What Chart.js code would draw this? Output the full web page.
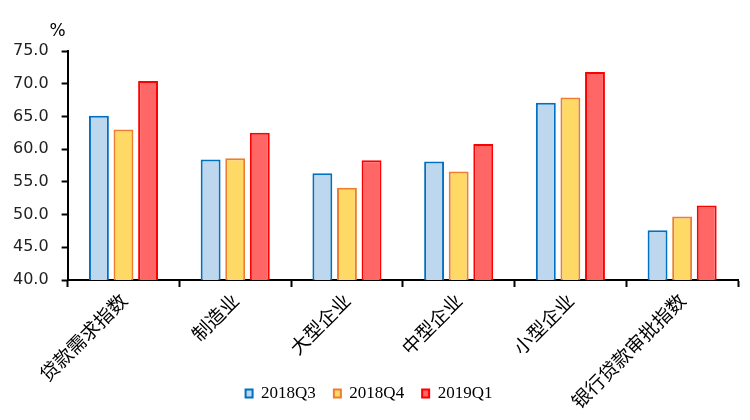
<!DOCTYPE html>
<html>
<head>
<meta charset="utf-8">
<script src="https://cdn.jsdelivr.net/npm/chart.js@4"></script>
<style>
  html, body { margin: 0; padding: 0; background: #fff; }
</style>
</head>
<body>
<canvas id="myChart" width="750" height="420"></canvas>
<script>
const categories = ['贷款需求指数', '制造业', '大型企业', '中型企业', '小型企业', '银行贷款审批指数'];
const q3_2018 = [65.1, 58.4, 56.3, 58.1, 67.1, 47.6];
const q4_2018 = [63.0, 58.6, 54.1, 56.6, 67.9, 49.7];
const q1_2019 = [70.4, 62.5, 58.3, 60.8, 71.8, 51.4];
const seriesNames = ['2018Q3', '2018Q4', '2019Q1'];
const yTicks = { min: 40, max: 75, step: 5 };

// "%" unit above the y axis
const unitLabel = {
  id: 'unitLabel',
  beforeDraw(chart) {
    // let the long rotated labels run past the x scale box (legend sits beside them)
    chart.scales.x._computeLabelArea = () => undefined;
  },
  afterDraw(chart) {
    const c = chart.ctx, a = chart.chartArea;
    c.save();
    c.font = '17px "DejaVu Sans"';
    c.fillStyle = '#000';
    c.textAlign = 'right';
    c.textBaseline = 'bottom';
    c.fillText('%', a.left - 2, a.top - 11);
    c.restore();
  }
};

const data = {
  labels: categories,
  datasets: [{
    label: seriesNames[0],
    data: q3_2018,
    backgroundColor: '#BDD7EE',
    borderColor: '#0070C0',
    borderWidth: 2
  }, {
    label: seriesNames[1],
    data: q4_2018,
    backgroundColor: '#FFD966',
    borderColor: '#ED7D31',
    borderWidth: 2
  }, {
    label: seriesNames[2],
    data: q1_2019,
    backgroundColor: '#FF6666',
    borderColor: '#FF0000',
    borderWidth: 2
  }]
};

const config = {
  type: 'bar',
  data: data,
  options: {
    responsive: false,
    animation: false,
    devicePixelRatio: 1,
    categoryPercentage: 0.66,
    barPercentage: 0.81,
    layout: { padding: { top: 51, right: 12, left: 0, bottom: 8 } },
    plugins: {
      tooltip: { enabled: false },
      legend: {
        position: 'bottom',
        labels: {
          font: { family: '"Liberation Serif"', size: 17 },
          color: '#000',
          boxWidth: 7,
          boxHeight: 8,
          padding: 18
        }
      }
    },
    scales: {
      x: {
        grid: {
          offset: true,
          drawOnChartArea: false,
          drawTicks: true,
          tickLength: 7,
          tickWidth: 2,
          tickColor: '#000'
        },
        border: { color: '#000', width: 2 },
        ticks: {
          color: '#000',
          font: { family: '"Noto Sans CJK SC"', size: 19 },
          minRotation: 45,
          maxRotation: 45,
          padding: 2
        },
        afterFit(scale) { scale.height = 87; }
      },
      y: {
        min: yTicks.min,
        max: yTicks.max,
        grid: {
          drawOnChartArea: false,
          drawTicks: true,
          tickLength: 6,
          tickWidth: 2,
          tickColor: '#000'
        },
        border: { color: '#000', width: 2 },
        ticks: {
          stepSize: yTicks.step,
          color: '#222',
          font: { family: '"DejaVu Sans"', size: 16 },
          padding: 13,
          callback: v => v.toFixed(1)
        }
      }
    }
  },
  plugins: [unitLabel]
};

const myChart = new Chart(document.getElementById('myChart'), config);
</script>
</body>
</html>
